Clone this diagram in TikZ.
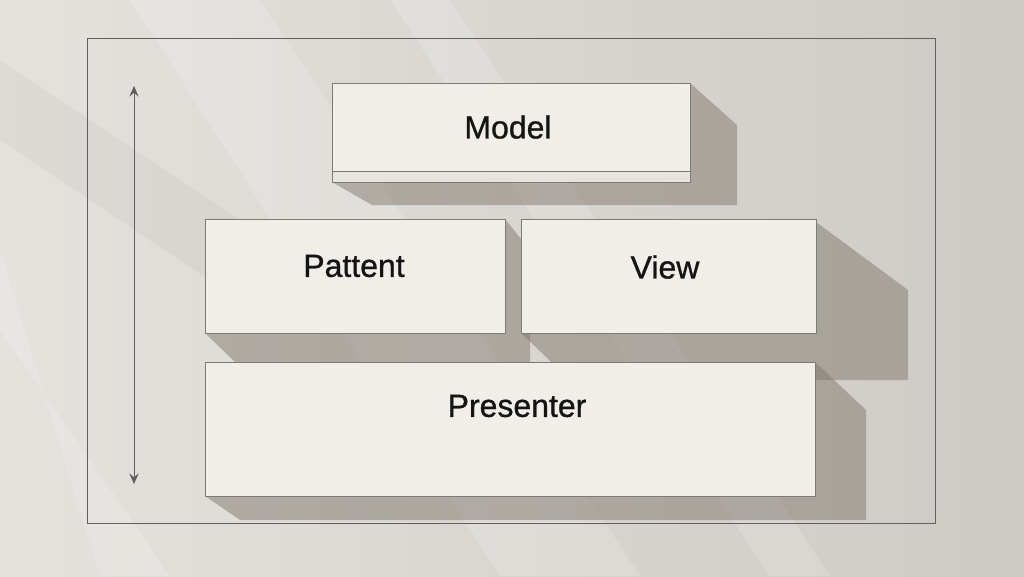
\documentclass[tikz,border=0pt]{standalone}
\usepackage{fontspec}
\setmainfont{Liberation Sans}[FakeBold=0.9]
\usetikzlibrary{arrows.meta,fit}
\definecolor{bgL}{RGB}{228,226,221}
\definecolor{bgR}{RGB}{206,202,197}
\definecolor{boxfill}{RGB}{240,238,231}
\definecolor{boxline}{RGB}{125,123,120}
\definecolor{shadowc}{RGB}{128,120,110}
\definecolor{framec}{RGB}{95,95,95}
\tikzset{
  panel/.style={draw=boxline, line width=0.6pt, fill=boxfill, inner sep=0pt},
  lbl/.style={font=\fontsize{24}{28}\selectfont, text=black!92, inner sep=0pt},
  shadowfill/.style={fill=shadowc, fill opacity=0.5, draw=none},
  streak/.style={fill=white, fill opacity=0.16, draw=none},
  darkstreak/.style={fill=black, fill opacity=0.035, draw=none},
}
\begin{document}
\begin{tikzpicture}[x=0.75pt,y=-0.75pt]
\useasboundingbox (0,0) rectangle (1024,576);
% background
\shade[left color=bgL, right color=bgR] (0,0) rectangle (1024,576);
\fill[darkstreak] (0,60) -- (0,140) -- (240,300) -- (240,220) -- cycle;
\fill[streak] (130,0) -- (260,0) -- (640,576) -- (500,576) -- cycle;
\fill[streak] (390,0) -- (450,0) -- (830,576) -- (770,576) -- cycle;
\fill[streak] (0,250) -- (0,330) -- (170,576) -- (100,576) -- cycle;
% frame
\draw[framec, line width=0.75pt] (87,38) rectangle (935,523);
% shadows
\fill[shadowfill] (332,182) -- (372,205) -- (737,205) -- (737,125) -- (690,83) -- cycle;
\fill[shadowfill] (205,333) -- (235,362) -- (530,362) -- (530,250) -- (505,219) -- cycle;
\fill[shadowfill] (521,333) -- (570,380) -- (908,380) -- (908,290) -- (816,222) -- cycle;
\fill[shadowfill] (205,496) -- (240,520) -- (866,520) -- (866,410) -- (815,362) -- cycle;
% boxes
\node[panel, fit={(332,83) (690,171)}] (model) {};
\draw[boxline, line width=0.6pt, fill=boxfill!96!black] (332,171) rectangle (690,182);
\node[panel, fit={(205,219) (505,333)}] (pattent) {};
\node[panel, fit={(521,219) (816,333)}] (view) {};
\node[panel, fit={(205,362) (815,496)}] (presenter) {};
% labels
\node[lbl] (tmodel) at (508,127) {Model};
\node[lbl] (tpattent) at (354,266) {Pattent};
\node[lbl] (tview) at (665,267) {View};
\node[lbl] (tpresenter) at (517,406) {Presenter};
% vertical arrow
\coordinate (atop) at (134,86);
\coordinate (abot) at (134,484);
\draw[framec, line width=0.75pt, {Stealth[length=8pt,width=7pt,inset=3pt]}-{Stealth[length=8pt,width=7pt,inset=3pt]}] (atop) -- (abot);
\end{tikzpicture}
\end{document}
